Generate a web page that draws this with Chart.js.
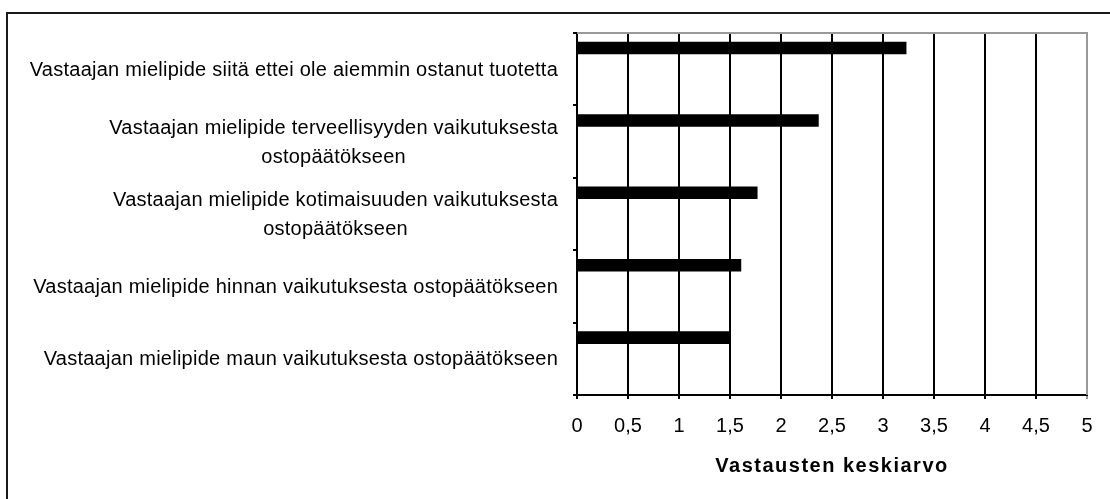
<!DOCTYPE html>
<html>
<head>
<meta charset="utf-8">
<script src="https://cdn.jsdelivr.net/npm/chart.js@4"></script>
<style>
  html, body { margin: 0; padding: 0; background: #fff; }
</style>
</head>
<body>
<canvas id="myChart" width="1110" height="499"></canvas>
<script>
// data
const categories = [
    ['Vastaajan mielipide siitä ettei ole aiemmin ostanut tuotetta'],
    ['Vastaajan mielipide terveellisyyden vaikutuksesta', 'ostopäätökseen'],
    ['Vastaajan mielipide kotimaisuuden vaikutuksesta', 'ostopäätökseen'],
    ['Vastaajan mielipide hinnan vaikutuksesta ostopäätökseen'],
    ['Vastaajan mielipide maun vaikutuksesta ostopäätökseen']
]
const averages = [3.23, 2.37, 1.77, 1.61, 1.5]
// empty series, they only push the real bar to the top of each band (like the excel original)
const emptySeries = [null, null, null, null, null]
const xTicks = [0, 0.5, 1, 1.5, 2, 2.5, 3, 3.5, 4, 4.5, 5]
const axisTitle = 'Vastausten keskiarvo'

const FONT = '"Liberation Sans", Arial, sans-serif'

const decorations = {
    id: 'decorations',
    beforeDraw(chart) {
        const c = chart.ctx
        c.save()
        c.fillStyle = '#1a1a1a'
        c.fillRect(6, 12, 1104, 2)
        c.fillRect(6, 12, 2, 487)
        c.restore()
    },
    beforeDatasetsDraw(chart) {
        const { ctx, chartArea: a } = chart
        ctx.save()
        ctx.strokeStyle = '#999'
        ctx.lineWidth = 2
        ctx.beginPath()
        ctx.moveTo(a.left, a.top)
        ctx.lineTo(a.right, a.top)
        ctx.lineTo(a.right, a.bottom)
        ctx.stroke()
        ctx.restore()
    },
    afterDraw(chart) {
        const { ctx, chartArea: a } = chart
        const yScale = chart.scales.y
        ctx.save()
        ctx.fillStyle = '#000'
        ctx.font = '20px ' + FONT
        ctx.letterSpacing = '0.25px'
        ctx.textAlign = 'center'
        ctx.textBaseline = 'middle'
        categories.forEach((lines, i) => {
            const y = yScale.getPixelForValue(i)
            const widest = Math.max(...lines.map(l => ctx.measureText(l).width))
            const cx = 558 - widest / 2
            lines.forEach((line, j) => {
                ctx.fillText(line, cx, y + 1 + (j - (lines.length - 1) / 2) * 29)
            })
        })
        ctx.font = 'bold 20px ' + FONT
        ctx.letterSpacing = '1.5px'
        ctx.fillText(axisTitle, (a.left + a.right) / 2, 466)
        ctx.restore()
    }
}

const barOpts = { categoryPercentage: 0.78, barPercentage: 0.89 }

new Chart(document.getElementById('myChart'), {
    type: 'bar',
    data: {
        labels: categories,
        datasets: [
            { data: averages, backgroundColor: '#000', ...barOpts },
            { data: emptySeries, ...barOpts },
            { data: emptySeries, ...barOpts },
            { data: emptySeries, ...barOpts }
        ]
    },
    options: {
        indexAxis: 'y',
        responsive: false,
        animation: false,
        layout: { padding: { top: 33, right: 23, left: 0, bottom: 0 } },
        plugins: {
            legend: { display: false },
            tooltip: { enabled: false }
        },
        scales: {
            x: {
                type: 'linear',
                min: 0,
                max: 5,
                afterBuildTicks: s => { s.ticks = xTicks.map(v => ({ value: v })) },
                afterFit: s => { s.height = 104 },
                ticks: {
                    autoSkip: false,
                    maxRotation: 0,
                    padding: 15,
                    color: '#000',
                    font: { family: FONT, size: 20 },
                    callback: v => String(v).replace('.', ',')
                },
                grid: {
                    color: ctx => (ctx.tick && ctx.tick.value === 5 ? '#999' : '#000'),
                    lineWidth: 2,
                    tickLength: 4,
                    drawTicks: true
                },
                border: { color: '#000', width: 2 }
            },
            y: {
                type: 'category',
                afterFit: s => { s.width = 577 },
                ticks: { callback: () => '', padding: 0 },
                grid: {
                    drawOnChartArea: false,
                    drawTicks: true,
                    tickLength: 4,
                    color: '#000',
                    lineWidth: 2,
                    offset: true
                },
                border: { color: '#000', width: 2 }
            }
        }
    },
    plugins: [decorations]
})
</script>
</body>
</html>
